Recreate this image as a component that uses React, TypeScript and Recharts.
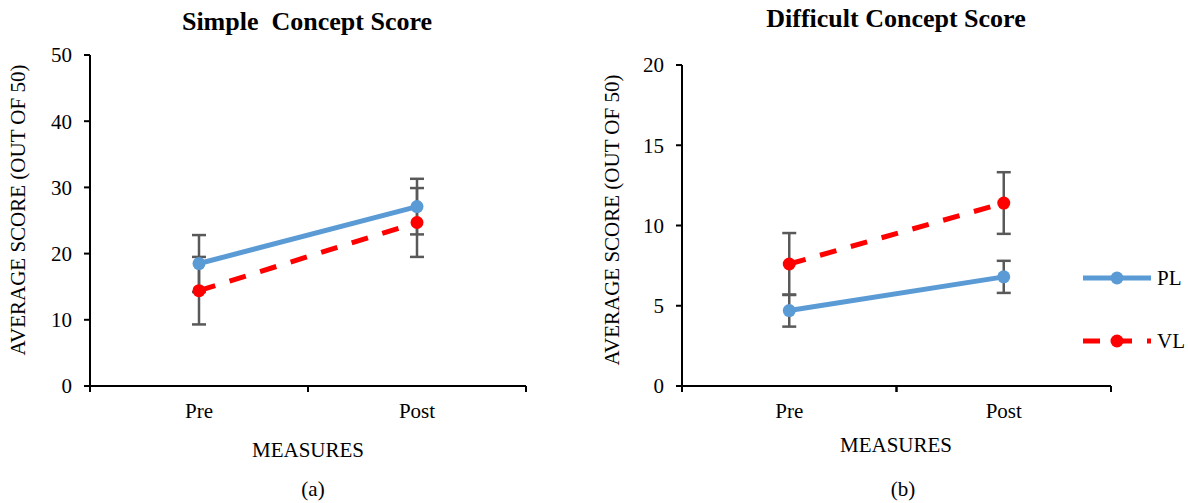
import React from "react"
import { LineChart, Line, XAxis, YAxis, ErrorBar, Legend } from "recharts"

const measures = ["Pre", "Post"]

// simple concept score (a)
const simplePL = [18.5, 27.1]
const simplePLErr = [4.3, 4.2]
const simpleVL = [14.4, 24.7]
const simpleVLErr = [5.1, 5.2]
const simpleTicks = [0, 10, 20, 30, 40, 50]

// difficult concept score (b)
const difficultPL = [4.7, 6.8]
const difficultPLErr = [1.0, 1.0]
const difficultVL = [7.6, 11.4]
const difficultVLErr = [1.93, 1.92]
const difficultTicks = [0, 5, 10, 15, 20]

const FONT = "'Liberation Serif', 'Times New Roman', serif"
const BLUE = "#5B9BD5"
const RED = "#FF0000"
const GREY = "#595959"
const DASH = "17 15"
const FS = 21

const simpleData = measures.map((m, i) => ({
  measure: m,
  PL: simplePL[i],
  plErr: simplePLErr[i],
  VL: simpleVL[i],
  vlErr: simpleVLErr[i],
}))

const difficultData = measures.map((m, i) => ({
  measure: m,
  PL: difficultPL[i],
  plErr: difficultPLErr[i],
  VL: difficultVL[i],
  vlErr: difficultVLErr[i],
}))

// category label in the middle, tick marks on the band edges (Excel style)
function BandTick(props: any) {
  const { x, y, payload } = props
  const half = payload && payload.offset ? payload.offset : 109
  return (
    <g>
      <line x1={x - half} y1={y} x2={x - half} y2={y + 6} stroke="#000" strokeWidth={2} />
      <line x1={x + half} y1={y} x2={x + half} y2={y + 6} stroke="#000" strokeWidth={2} />
      <text x={x} y={y + 32} textAnchor="middle" fontFamily={FONT} fontSize={FS} fill="#000">
        {payload.value}
      </text>
    </g>
  )
}

function LegendContent() {
  return (
    <svg width={110} height={100} style={{ overflow: "visible" }}>
      <line x1={4} y1={18} x2={72} y2={18} stroke={BLUE} strokeWidth={5} />
      <circle cx={38} cy={18} r={6.5} fill={BLUE} />
      <text x={78} y={18} dominantBaseline="central" fontFamily={FONT} fontSize={FS} fill="#000">
        PL
      </text>
      <line x1={4} y1={81} x2={72} y2={81} stroke={RED} strokeWidth={5} strokeDasharray={DASH} />
      <circle cx={38} cy={81} r={6.5} fill={RED} />
      <text x={78} y={81} dominantBaseline="central" fontFamily={FONT} fontSize={FS} fill="#000">
        VL
      </text>
    </svg>
  )
}

function ScoreChart({
  data,
  width,
  top,
  left,
  right,
  max,
  ticks,
  legend,
}: {
  data: any[]
  width: number
  top: number
  left: number
  right: number
  max: number
  ticks: number[]
  legend?: boolean
}) {
  const tickStyle = { fill: "#000", fontSize: FS, fontFamily: FONT }
  return (
    <LineChart width={width} height={503} data={data} margin={{ top, right, bottom: 87, left }}>
      <XAxis
        dataKey="measure"
        scale="band"
        height={30}
        axisLine={{ stroke: "#000", strokeWidth: 2 }}
        tickLine={false}
        tickSize={0}
        tickMargin={0}
        tick={<BandTick />}
        interval={0}
      />
      <YAxis
        width={60}
        domain={[0, max]}
        ticks={ticks}
        interval={0}
        axisLine={{ stroke: "#000", strokeWidth: 2 }}
        tickLine={{ stroke: "#000", strokeWidth: 2 }}
        tickSize={6}
        tickMargin={12}
        tick={tickStyle}
      />
      {legend && (
        <Legend
          layout="horizontal"
          align="center"
          verticalAlign="middle"
          content={<LegendContent />}
          wrapperStyle={{ left: 479, top: 260, width: 110, height: 100 }}
        />
      )}
      <Line
        dataKey="VL"
        stroke={RED}
        strokeWidth={5}
        strokeDasharray={DASH}
        dot={{ r: 6.5, fill: RED, stroke: RED, strokeWidth: 0, strokeDasharray: "" }}
        isAnimationActive={false}
      >
        <ErrorBar dataKey="vlErr" width={7} stroke={GREY} strokeWidth={2.5} />
      </Line>
      <Line
        dataKey="PL"
        stroke={BLUE}
        strokeWidth={5}
        dot={{ r: 6.5, fill: BLUE, stroke: BLUE, strokeWidth: 0 }}
        isAnimationActive={false}
      >
        <ErrorBar dataKey="plErr" width={7} stroke={GREY} strokeWidth={2.5} />
      </Line>
    </LineChart>
  )
}

export default function App() {
  const label = { fontFamily: FONT, fontSize: FS, fill: "#000" }
  return (
    <div style={{ position: "absolute", left: 0, top: 0, width: 1188, height: 503, background: "#fff" }}>
      <div style={{ position: "absolute", left: 0, top: 0 }}>
        <ScoreChart data={simpleData} width={600} top={55} left={30} right={74} max={50} ticks={simpleTicks} />
      </div>
      <div style={{ position: "absolute", left: 600, top: 0 }}>
        <ScoreChart
          data={difficultData}
          width={588}
          top={65}
          left={22}
          right={77}
          max={20}
          ticks={difficultTicks}
          legend
        />
      </div>
      <svg
        width={1188}
        height={503}
        style={{ position: "absolute", left: 0, top: 0, pointerEvents: "none" }}
      >
        <text x={307} y={30} textAnchor="middle" fontFamily={FONT} fontSize={26} fontWeight="bold" style={{ whiteSpace: "pre" }}>
          {"Simple  Concept Score"}
        </text>
        <text x={896} y={27} textAnchor="middle" fontFamily={FONT} fontSize={26} fontWeight="bold">
          Difficult Concept Score
        </text>
        <text {...label} x={18} y={210} textAnchor="middle" dominantBaseline="central" transform="rotate(-90 18 210)">
          AVERAGE SCORE (OUT OF 50)
        </text>
        <text {...label} x={612} y={220} textAnchor="middle" dominantBaseline="central" transform="rotate(-90 612 220)">
          AVERAGE SCORE (OUT OF 50)
        </text>
        <text {...label} x={308} y={457} textAnchor="middle">MEASURES</text>
        <text {...label} x={896} y={452} textAnchor="middle">MEASURES</text>
        <text {...label} x={313} y={496} textAnchor="middle">(a)</text>
        <text {...label} x={903} y={496} textAnchor="middle">(b)</text>
      </svg>
    </div>
  )
}
